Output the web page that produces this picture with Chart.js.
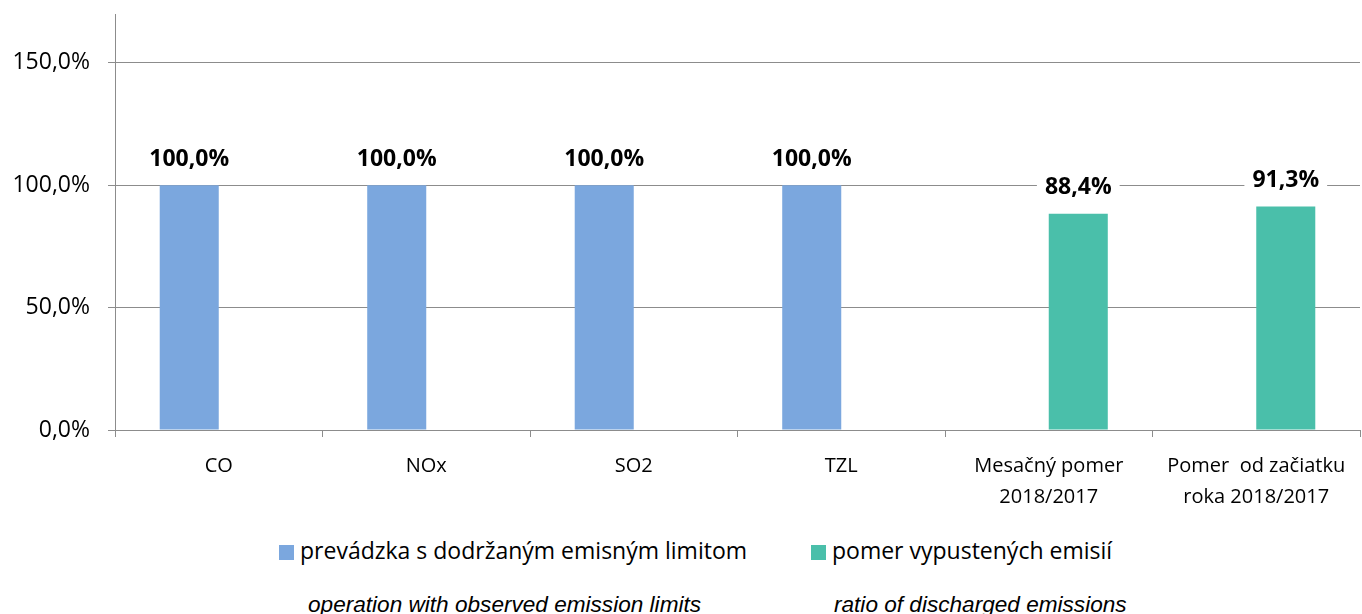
<!DOCTYPE html>
<html>
<head>
<meta charset="utf-8">
<script src="https://cdn.jsdelivr.net/npm/chart.js@4/dist/chart.umd.min.js"></script>
<style>
  html, body { margin: 0; padding: 0; background: #fff; }
  #wrap { position: relative; width: 1362px; height: 614px; overflow: hidden; }
  canvas { position: absolute; left: 0; top: 0; }
  .box { position: absolute; width: 15px; height: 15px; top: 545px; }
  .leg { position: absolute; top: 534px; font-family: "Open Sans", sans-serif; font-size: 23px; color: #000; white-space: nowrap; line-height: 32px; }
  .cap { position: absolute; top: 592px; font-family: "Liberation Sans", Arial, sans-serif; font-style: italic; font-size: 22.6px; line-height: 26px; color: #000; white-space: nowrap; }
</style>
</head>
<body>
<div id="wrap">
  <canvas id="c" width="1362" height="520"></canvas>
  <div class="box" style="left:279px; background:#7BA7DE"></div>
  <div class="leg" id="leg1" style="left:300px;"></div>
  <div class="box" style="left:811px; background:#4ABFAA"></div>
  <div class="leg" id="leg2" style="left:832px;"></div>
  <div class="cap" style="left:308px;">operation with observed emission limits</div>
  <div class="cap" style="left:834px;">ratio of discharged emissions</div>
</div>
<script>
const categories = ["CO", "NOx", "SO2", "TZL", ["Mesačný pomer", "2018/2017"], ["Pomer  od začiatku", "roka 2018/2017"]];
const seriesNames = ["prevádzka s dodržaným emisným limitom", "pomer vypustených emisií"];
const limitValues = [100, 100, 100, 100, null, null];
const ratioValues = [null, null, null, null, 88.4, 91.3];
const yTicks = [0, 50, 100, 150];
const yMax = 170;

document.getElementById('leg1').textContent = seriesNames[0];
document.getElementById('leg2').textContent = seriesNames[1];

const fmt = v => v.toFixed(1).replace('.', ',') + '%';

const labelPlugin = {
  id: 'barLabels',
  afterDatasetsDraw(chart) {
    const ctx = chart.ctx;
    ctx.save();
    ctx.font = 'bold 23px "Open Sans", sans-serif';
    ctx.textAlign = 'center';
    ctx.textBaseline = 'middle';
    chart.data.datasets.forEach((ds, di) => {
      const meta = chart.getDatasetMeta(di);
      meta.data.forEach((bar, i) => {
        const v = ds.data[i];
        if (v === null || v === undefined) return;
        const txt = fmt(v);
        const w = ctx.measureText(txt).width;
        const cy = bar.y - 27;
        ctx.fillStyle = '#fff';
        ctx.fillRect(bar.x - w / 2 - 8, cy - 13, w + 16, 26);
        ctx.fillStyle = '#000';
        ctx.fillText(txt, bar.x, cy + 1);
      });
    });
    ctx.restore();
  }
};

new Chart(document.getElementById('c'), {
  type: 'bar',
  data: {
    labels: categories,
    datasets: [
      { label: seriesNames[0], data: limitValues, backgroundColor: '#7BA7DE', barPercentage: 1.0, categoryPercentage: 0.569 },
      { label: seriesNames[1], data: ratioValues, backgroundColor: '#4ABFAA', barPercentage: 1.0, categoryPercentage: 0.569 }
    ]
  },
  options: {
    responsive: false,
    animation: false,
    layout: { padding: { top: 14, right: 2, left: 0, bottom: 0 } },
    plugins: { legend: { display: false }, tooltip: { enabled: false } },
    scales: {
      x: {
        afterFit(s) { s.height = 90; s.paddingLeft = 0; s.paddingRight = 0; },
        grid: { display: true, drawOnChartArea: false, drawTicks: true, tickLength: 7, color: '#8C8C8C', offset: true },
        border: { display: true, color: '#8C8C8C', width: 1 },
        ticks: { color: '#000', font: { family: '"Open Sans", sans-serif', size: 20, lineHeight: 1.55 }, padding: 14, maxRotation: 0, autoSkip: false }
      },
      y: {
        min: 0, max: yMax,
        afterFit(s) { s.width = 115; s.paddingTop = 0; s.paddingBottom = 0; },
        afterBuildTicks(s) { s.ticks = yTicks.map(v => ({ value: v })); },
        grid: { color: '#8C8C8C', drawTicks: true, tickLength: 7 },
        border: { display: true, color: '#8C8C8C', width: 1 },
        ticks: { color: '#000', font: { family: '"Open Sans", sans-serif', size: 23 }, padding: 18, callback: v => fmt(v) }
      }
    }
  },
  plugins: [labelPlugin]
});
</script>
</body>
</html>
